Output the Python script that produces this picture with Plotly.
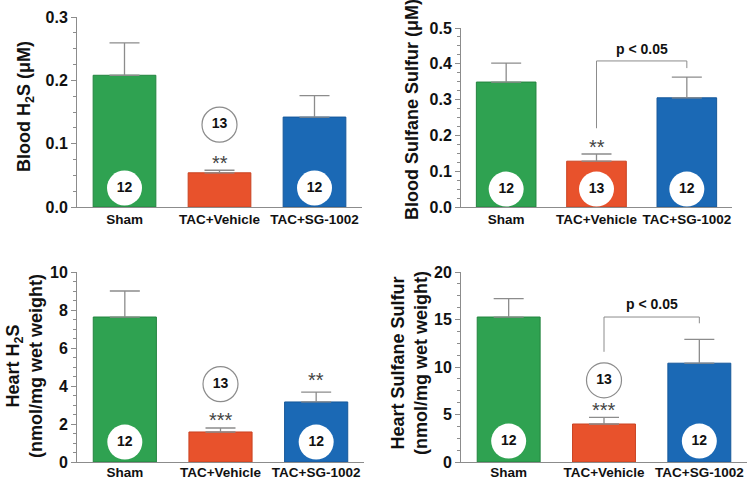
import plotly.graph_objects as go

# ---------------- data ----------------
categories = ["Sham", "TAC+Vehicle", "TAC+SG-1002"]

blood_h2s = [0.208, 0.054, 0.142]
blood_h2s_err = [0.051, 0.004, 0.034]

blood_sulfane = [0.349, 0.128, 0.305]
blood_sulfane_err = [0.053, 0.020, 0.058]

heart_h2s = [7.63, 1.58, 3.16]
heart_h2s_err = [1.37, 0.21, 0.52]

heart_sulfane = [15.26, 4.0, 10.4]
heart_sulfane_err = [1.94, 0.7, 2.5]

n_labels = ["12", "13", "12"]

sig_blood_h2s = ["", "**", ""]
sig_blood_sulfane = ["", "**", ""]
sig_heart_h2s = ["", "***", "**"]
sig_heart_sulfane = ["", "***", ""]

p_label = "p < 0.05"

# ---------------- style ----------------
FONT = "Liberation Sans, Arial, sans-serif"
bar_colors = ["#2FA251", "#E8522C", "#1B69B5"]
bar_lines = ["#23843F", "#C94322", "#16589A"]
GRAY = "#8c8c8c"

panels = [
    dict(vals=blood_h2s, err=blood_h2s_err, sig=sig_blood_h2s,
         xdom=[77 / 748, 362 / 748], ydom=[1 - 207 / 479, 1 - 17 / 479],
         yrange=[0, 0.3], dtick=0.1, minor=0.025, fmt=".1f",
         circle_y=[0.030, 0.130, 0.030], open_circle=[False, True, False],
         sig_y=[0, 0.070, 0], bracket=None, standoff=0),
    dict(vals=blood_sulfane, err=blood_sulfane_err, sig=sig_blood_sulfane,
         xdom=[461 / 748, 732 / 748], ydom=[1 - 207 / 479, 1 - 28 / 479],
         yrange=[0, 0.5], dtick=0.1, minor=0.025, fmt=".1f",
         circle_y=[0.05, 0.05, 0.05], open_circle=[False, False, False],
         sig_y=[0, 0.168, 0], bracket=[0.22, 0.408, 0.388, 0.441], standoff=0),
    dict(vals=heart_h2s, err=heart_h2s_err, sig=sig_heart_h2s,
         xdom=[77 / 748, 364 / 748], ydom=[1 - 462 / 479, 1 - 272 / 479],
         yrange=[0, 10], dtick=2, minor=0.5, fmt="d",
         circle_y=[1.05, 4.1, 1.05], open_circle=[False, True, False],
         sig_y=[0, 2.2, 4.3], bracket=None, standoff=-2),
    dict(vals=heart_sulfane, err=heart_sulfane_err, sig=sig_heart_sulfane,
         xdom=[461 / 748, 747 / 748], ydom=[1 - 462 / 479, 1 - 272 / 479],
         yrange=[0, 20], dtick=5, minor=1.25, fmt="d",
         circle_y=[2.2, 8.6, 2.2], open_circle=[False, True, False],
         sig_y=[0, 5.5, 0], bracket=[11.6, 15.26, 14.6, 16.6], standoff=-2),
]

titles = [
    dict(text="Blood H<sub>2</sub>S (μM)", x=25, y=107),
    dict(text="Blood Sulfane Sulfur (μM)", x=412, y=110),
    dict(text="Heart H<sub>2</sub>S<br>(nmol/mg wet weight)", x=24, y=366),
    dict(text="Heart Sulfane Sulfur<br>(nmol/mg wet weight)", x=409, y=363),
]

fig = go.Figure()
annotations = []
shapes = []

for i, p in enumerate(panels):
    k = "" if i == 0 else str(i + 1)
    xa, ya = "x" + k, "y" + k
    fig.add_trace(go.Bar(
        x=categories, y=p["vals"], xaxis=xa, yaxis=ya, width=0.66,
        marker=dict(color=bar_colors, line=dict(color=bar_lines, width=1)),
        error_y=dict(type="data", array=p["err"], arrayminus=[0, 0, 0],
                     symmetric=False, color=GRAY, thickness=1.3, width=15),
        hoverinfo="skip",
    ))
    fig.add_trace(go.Scatter(
        x=categories, y=p["circle_y"], xaxis=xa, yaxis=ya,
        mode="markers+text", text=n_labels, textposition="middle center",
        textfont=dict(family=FONT, size=14, color="#111", weight="bold"),
        marker=dict(size=35, color="white",
                    line=dict(color=[GRAY if o else "white" for o in p["open_circle"]],
                              width=[1.2 if o else 0 for o in p["open_circle"]])),
        cliponaxis=False, hoverinfo="skip",
    ))
    for c, s, sy in zip(categories, p["sig"], p["sig_y"]):
        if s:
            annotations.append(dict(
                x=c, y=sy, xref=xa, yref=ya, text=s, showarrow=False,
                font=dict(family=FONT, size=20, color="#444"), yanchor="middle"))
    if p["bracket"]:
        b0, btop, bright, ptxt = p["bracket"]
        for (x0, y0, x1, y1) in [(1, b0, 1, btop), (1, btop, 2, btop), (2, btop, 2, bright)]:
            shapes.append(dict(type="line", xref=xa, yref=ya, x0=x0, y0=y0, x1=x1, y1=y1,
                               line=dict(color=GRAY, width=1)))
        annotations.append(dict(
            x=1.5, y=ptxt, xref=xa, yref=ya, text=p_label, showarrow=False,
            font=dict(family=FONT, size=14, color="#111", weight="bold"), yanchor="middle"))

    xkey = "xaxis" + k
    ykey = "yaxis" + k
    fig.layout[xkey] = dict(
        domain=p["xdom"], anchor=ya, range=[-0.5, 2.5], type="category",
        showline=True, linecolor=GRAY, linewidth=1, ticks="", showgrid=False,
        tickfont=dict(family=FONT, size=13.5, color="#111", weight="bold"),
        ticklabelstandoff=p["standoff"],
        fixedrange=True, automargin=False,
    )
    fig.layout[ykey] = dict(
        domain=p["ydom"], anchor=xa, range=p["yrange"], dtick=p["dtick"],
        tickformat=p["fmt"], showline=True, linecolor=GRAY, linewidth=1,
        ticks="outside", ticklen=5, tickcolor=GRAY, showgrid=False, zeroline=False,
        minor=dict(dtick=p["minor"], ticks="outside", ticklen=3, tickcolor=GRAY),
        tickfont=dict(family=FONT, size=16, color="#111", weight="bold"),
        fixedrange=True, automargin=False,
    )

for t in titles:
    annotations.append(dict(
        x=t["x"] / 748, y=1 - t["y"] / 479, xref="paper", yref="paper",
        text=t["text"], showarrow=False, textangle=-90,
        font=dict(family=FONT, size=18, color="#111", weight="bold"),
        xanchor="center", yanchor="middle"))

fig.update_layout(
    width=748, height=479, margin=dict(l=0, r=0, t=0, b=0),
    paper_bgcolor="white", plot_bgcolor="white", showlegend=False,
    annotations=annotations, shapes=shapes, bargap=0.34,
)

fig.write_html("out.html", config={"displayModeBar": False},
               post_script="document.body.style.margin='0';")
